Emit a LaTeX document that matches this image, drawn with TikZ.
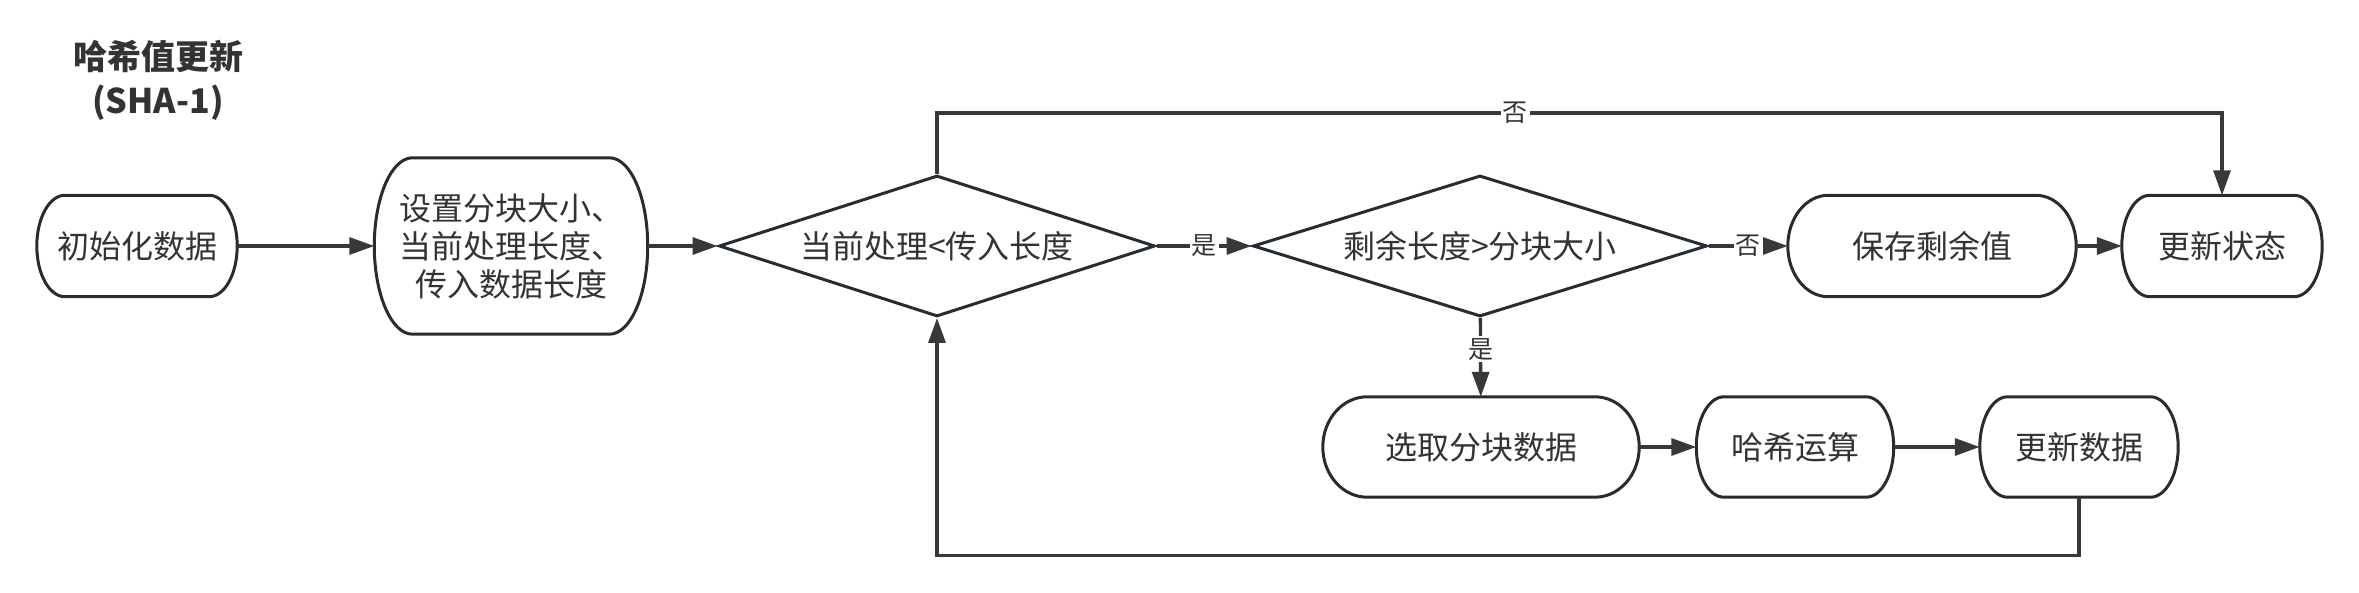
\documentclass[tikz,border=0pt]{standalone}
\usepackage{fontspec}
\newfontfamily\cjk{Noto Sans CJK SC}
\usetikzlibrary{arrows.meta,calc,shapes.geometric}
\definecolor{txtgray}{HTML}{333333}
\definecolor{edgegray}{HTML}{383838}
\definecolor{bordergray}{HTML}{252C33}

\tikzset{
  boxtext/.style={font=\cjk\fontsize{32}{38}\selectfont, text=txtgray, inner sep=0pt, align=center},
  termbox/.style={boxtext, minimum height=101pt},
  termline/.style={draw=bordergray, line width=3pt},
  decision/.style={boxtext, diamond, draw=bordergray, line width=3pt, minimum height=141pt, aspect=3.1},
  flow/.style={draw=edgegray, line width=3.3pt, -{Triangle[length=25pt,width=17pt]}},
  tag/.style={font=\cjk\fontsize{25}{30}\selectfont, text=txtgray, fill=white, inner sep=2pt},
}

% outline of a terminal box: straight top and bottom, elliptic ends
\newcommand\drawterm[1]{%
  \draw[termline] let \p1=(#1.south west), \p2=(#1.north east),
    \n1={0.14*(\x2-\x1)}, \n2={0.5*(\y2-\y1)} in
    ({\x1+\n1*1pt},\y2) -- ({\x2-\n1*1pt},\y2)
    arc[start angle=90, end angle=-90, x radius=\n1, y radius=\n2]
    -- ({\x1+\n1*1pt},\y1)
    arc[start angle=-90, end angle=-270, x radius=\n1, y radius=\n2] -- cycle;}

\begin{document}
\begin{tikzpicture}[x=1pt,y=1pt]
  \useasboundingbox (0,0) rectangle (2359,-593);
  \node[boxtext, font=\cjk\bfseries\fontsize{34}{44}\selectfont] (title) at (158,-80) {哈希值更新\\(SHA-1)};
  % first row
  \node[termbox, minimum width=200pt] (init) at (137,-246) {初始化数据};
  \node[boxtext, minimum width=273pt, minimum height=176pt] (setup) at (511,-246) {设置分块大小、\\当前处理长度、\\传入数据长度};
  \node[decision, minimum width=436pt] (curlen) at (937,-246) {当前处理<传入长度};
  \node[decision, minimum width=454pt, aspect=3.2] (remain) at (1480,-246) {剩余长度>分块大小};
  \node[termbox, minimum width=288pt] (save) at (1932,-246) {保存剩余值};
  \node[termbox, minimum width=200pt] (state) at (2222,-246) {更新状态};
  % second row
  \node[termbox, minimum width=316pt, minimum height=100pt] (pick) at (1481,-447) {选取分块数据};
  \node[termbox, minimum width=197pt, minimum height=100pt] (hash) at (1795,-447) {哈希运算};
  \node[termbox, minimum width=198pt, minimum height=100pt] (upd) at (2079,-447) {更新数据};
  \foreach \b in {init,setup,save,state,pick,hash,upd}
    \drawterm{\b};
  % connectors
  \draw[flow] (init) -- (setup);
  \draw[flow] (setup) -- (curlen);
  \draw[flow] (curlen) -- node[tag]{是} (remain);
  \draw[flow] (remain) -- node[tag]{否} (save);
  \draw[flow] (save) -- (state);
  \draw[flow] (curlen.north) -- ++(0,61) -| node[tag,pos=0.225]{否} (state.north);
  \draw[flow] (remain) -- node[tag,pos=0.4]{是} (pick);
  \draw[flow] (pick) -- (hash);
  \draw[flow] (hash) -- (upd);
  \draw[flow] (upd.south) -- ++(0,-58) -| (curlen.south);
\end{tikzpicture}
\end{document}
